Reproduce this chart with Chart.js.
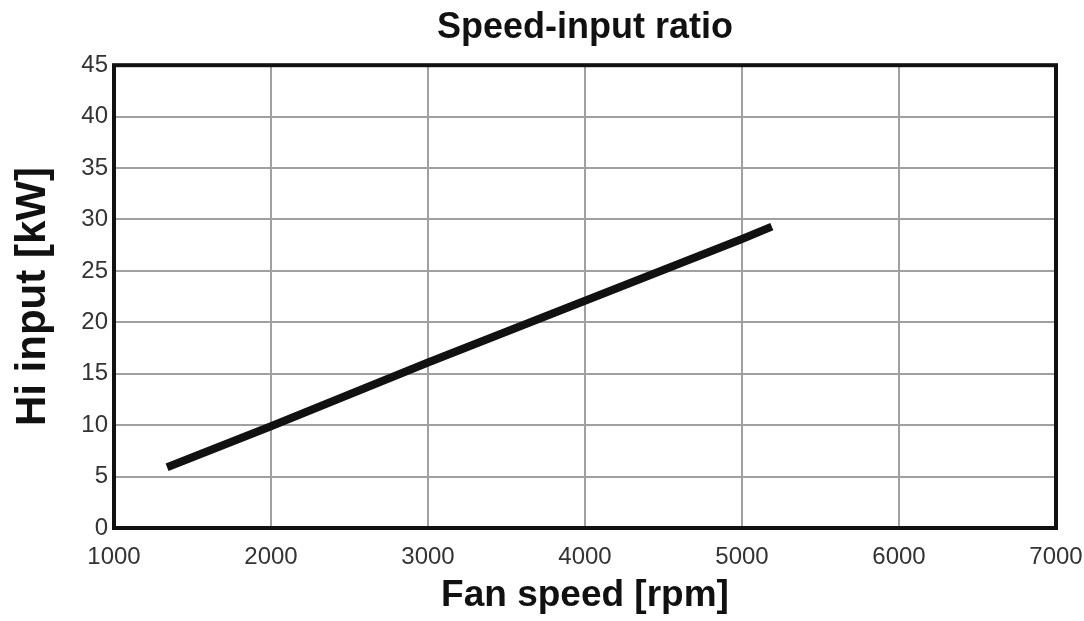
<!DOCTYPE html>
<html>
<head>
<meta charset="utf-8">
<script src="https://cdn.jsdelivr.net/npm/chart.js@4"></script>
<style>
html,body{margin:0;padding:0;background:#fff;}
#wrap{width:1084px;height:621px;position:relative;}
</style>
</head>
<body>
<div id="wrap"><canvas id="c" width="1084" height="621"></canvas></div>
<script>
const chartTitle = 'Speed-input ratio';
const xAxisTitle = 'Fan speed [rpm]';
const yAxisTitle = 'Hi input [kW]';
const fanSpeed = [1338, 2000, 3000, 4000, 5000, 5190];
const hiInput = [5.9, 9.9, 16.1, 22.1, 28.1, 29.3];
const xTickValues = [1000, 2000, 3000, 4000, 5000, 6000, 7000];
const xTickLabels = ['1000', '2000', '3000', '4000', '5000', '6000', '7000'];
const yTickValues = [0, 5, 10, 15, 20, 25, 30, 35, 40, 45];
const yTickLabels = ['0', '5', '10', '15', '20', '25', '30', '35', '40', '45'];

const points = fanSpeed.map((x, i) => ({x: x, y: hiInput[i]}));

const frame = {
  id: 'frame',
  afterDatasetsDraw(chart) {
    const a = chart.chartArea, ctx = chart.ctx;
    ctx.save();
    ctx.strokeStyle = '#111';
    ctx.lineWidth = 4;
    ctx.strokeRect(a.left, a.top, a.right - a.left, a.bottom - a.top);
    ctx.restore();
  }
};

new Chart(document.getElementById('c'), {
  type: 'line',
  data: {
    datasets: [{
      data: points,
      borderColor: '#111',
      borderWidth: 8,
      borderCapStyle: 'butt',
      pointRadius: 0,
      tension: 0,
      fill: false
    }]
  },
  options: {
    responsive: false,
    animation: false,
    layout: {padding: {left: 0, right: 28, top: 0, bottom: 0}},
    plugins: {
      legend: {display: false},
      tooltip: {enabled: false},
      title: {
        display: true,
        text: chartTitle,
        fullSize: false,
        color: '#111',
        font: {family: 'Liberation Sans', size: 36, weight: 'bold'},
        padding: {top: 6, bottom: 16}
      }
    },
    scales: {
      x: {
        type: 'linear',
        min: 1000, max: 7000,
        afterBuildTicks(s) { s.ticks = xTickValues.map(v => ({value: v})); },
        afterFit(s) { s.height = 93; s.paddingLeft = 0; s.paddingRight = 0; },
        ticks: {
          callback: (v) => xTickLabels[xTickValues.indexOf(v)],
          color: '#333',
          font: {family: 'Liberation Sans', size: 24},
          padding: 15,
          maxRotation: 0
        },
        grid: {color: '#a0a0a0', lineWidth: 2, drawTicks: false},
        border: {display: false},
        title: {
          display: true,
          text: xAxisTitle,
          color: '#111',
          font: {family: 'Liberation Sans', size: 37, weight: 'bold'},
          padding: {top: 0, bottom: 3}
        }
      },
      y: {
        min: 0, max: 45,
        afterBuildTicks(s) { s.ticks = yTickValues.map(v => ({value: v})); },
        afterFit(s) { s.width = 114; s.paddingTop = 0; s.paddingBottom = 0; },
        ticks: {
          callback: (v) => yTickLabels[yTickValues.indexOf(v)],
          color: '#333',
          font: {family: 'Liberation Sans', size: 24},
          padding: 6
        },
        grid: {color: '#a0a0a0', lineWidth: 2, drawTicks: false},
        border: {display: false},
        title: {
          display: true,
          text: yAxisTitle,
          color: '#111',
          font: {family: 'Liberation Sans', size: 42, weight: 'bold'},
          padding: {top: 8, bottom: 0}
        }
      }
    }
  },
  plugins: [frame]
});
</script>
</body>
</html>
